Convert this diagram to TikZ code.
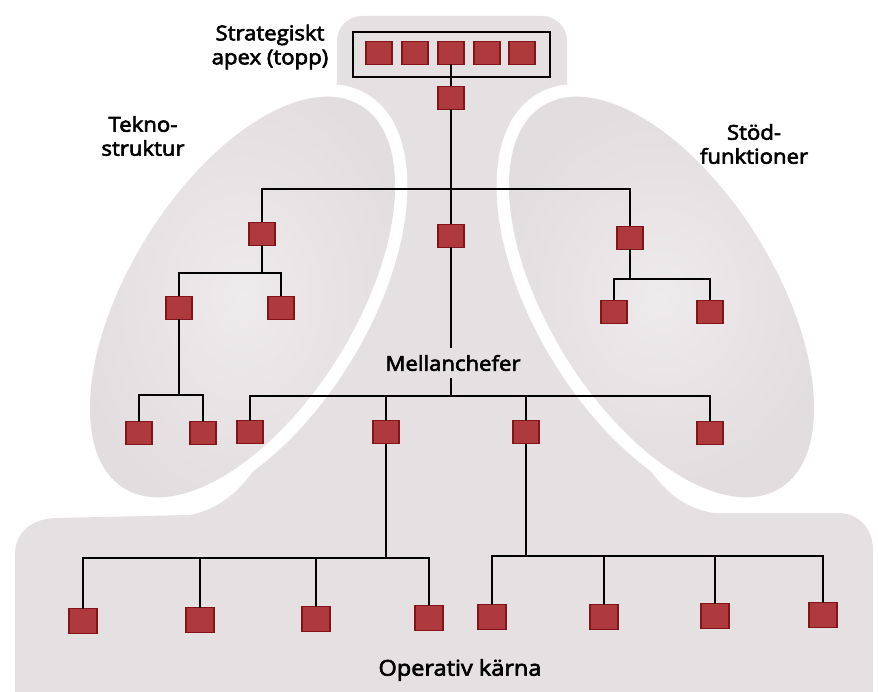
\documentclass[tikz,border=0pt]{standalone}
\usepackage{fontspec}
\newfontfamily\labelfont{Open Sans}[FakeBold=3, FakeStretch=1.08]
\definecolor{blobgray}{RGB}{229,224,225}
\definecolor{ellgray}{RGB}{238,235,236}
\definecolor{ellrim}{RGB}{226,221,222}
\definecolor{boxfill}{RGB}{174,58,61}
\definecolor{boxline}{RGB}{132,20,26}
\begin{document}
\begin{tikzpicture}[x=1pt,y=-1pt,
  box/.style={draw=boxline, fill=boxfill, line width=1.1pt,
    minimum width=26pt, minimum height=23pt, inner sep=0pt, outer sep=0pt},
  opbox/.style={box, minimum width=28pt, minimum height=25pt},
  link/.style={line width=1.5pt, draw=black},
  lbl/.style={font=\labelfont\fontsize{20.5}{24}\selectfont, align=center,
    text=black, inner sep=0pt}]

\useasboundingbox (0,0) rectangle (878,692);
\fill[white] (0,0) rectangle (878,692);

% grey body: apex neck, middle line and operating core
\fill[blobgray]
  (362,16) -- (542,16) .. controls (556,16) and (567,27) .. (567,41)
  -- (567,80) .. controls (567,92) and (575,100) .. (590,108)
  -- (661,297) -- (642,458)
  .. controls (659,485) and (679,508) .. (714,513)
  -- (838,513) .. controls (858,513) and (873,528) .. (873,550)
  -- (873,705) -- (15,705) -- (15,555)
  .. controls (15,532) and (32,518) .. (58,518)
  -- (190,515) .. controls (225,508) and (245,485) .. (262,458)
  -- (242,297) -- (314,108)
  .. controls (329,100) and (337,92) .. (337,80)
  -- (337,41) .. controls (337,27) and (348,16) .. (362,16) -- cycle;

% technostructure and support staff, each with a white rim
\fill[white, rotate around={58.2:(242.5,297)}] (242.5,297) ellipse [x radius=238, y radius=126];
\fill[white, rotate around={-58.2:(661.5,297)}] (661.5,297) ellipse [x radius=238, y radius=126];
\shade[inner color=ellgray, outer color=ellrim, rotate around={58.2:(242.5,297)}]
  (242.5,297) ellipse [x radius=225, y radius=113];
\shade[inner color=ellgray, outer color=ellrim, rotate around={-58.2:(661.5,297)}]
  (661.5,297) ellipse [x radius=225, y radius=113];

% labels
\node[lbl] (apexlbl) at (270,47) {Strategiskt\\apex (topp)};
\node[lbl] (teklbl) at (143,136) {Tekno-\\struktur};
\node[lbl] (stodlbl) at (754,144) {Stöd-\\funktioner};
\node[lbl] (mellbl) at (453,363) {Mellanchefer};
\node[lbl, font=\labelfont\fontsize{21.8}{24}\selectfont] (oplbl) at (460,670) {Operativ kärna};

% strategic apex
\node[draw=black, line width=1.4pt, minimum width=197pt, minimum height=45pt,
  inner sep=0pt] (frame) at (451.5,54.5) {};
\node[box] (a1) at (379,53) {};
\node[box] (a2) at (415,53) {};
\node[box] (a3) at (451,53) {};
\node[box] (a4) at (487,53) {};
\node[box] (a5) at (522,53) {};
\node[box] (n0) at (451,98) {};

% upper level
\node[box] (t1) at (262,234) {};
\node[box] (c1) at (451,236) {};
\node[box] (s1) at (630,238) {};
\node[box] (t2) at (179,308) {};
\node[box] (t3) at (281,308) {};
\node[box] (s2) at (614,312) {};
\node[box] (s3) at (710,312) {};
\node[box] (t4) at (139,433) {};
\node[box] (t5) at (203,433) {};

% middle managers
\node[box] (m1) at (250,432) {};
\node[box] (m2) at (386,432) {};
\node[box] (m3) at (526,432) {};
\node[box] (m4) at (710,433) {};

% operating core
\node[opbox] (o1) at (83,621) {};
\node[opbox] (o2) at (200,620) {};
\node[opbox] (o3) at (316,619) {};
\node[opbox] (o4) at (429,618) {};
\node[opbox] (o5) at (492,617) {};
\node[opbox] (o6) at (604,617) {};
\node[opbox] (o7) at (715,616) {};
\node[opbox] (o8) at (823,615) {};

% junction points
\coordinate (hTop) at (451,189);
\coordinate (hTek) at (262,273);
\coordinate (hTek2) at (179,395);
\coordinate (hStod) at (630,279);
\coordinate (mTop) at (451,348);
\coordinate (mBot) at (451,378);
\coordinate (hMid) at (451,396);
\coordinate (hOpL) at (386,558);
\coordinate (hOpR) at (526,556);

% connectors
\draw[link] (a3) -- (n0);
\draw[link] (n0) -- (c1);
\draw[link] (t1) |- (hTop) -| (s1);
\draw[link] (t1) -- (hTek);
\draw[link] (t2) |- (hTek) -| (t3);
\draw[link] (t2) -- (hTek2);
\draw[link] (t4) |- (hTek2) -| (t5);
\draw[link] (s1) -- (hStod);
\draw[link] (s2) |- (hStod) -| (s3);
\draw[link] (c1) -- (mTop);
\draw[link] (mBot) -- (hMid);
\draw[link] (m1) |- (hMid) -| (m4);
\draw[link] (m2) -- (m2 |- hMid);
\draw[link] (m3) -- (m3 |- hMid);
\draw[link] (m2) -- (hOpL);
\draw[link] (o1) |- (hOpL) -| (o4);
\draw[link] (o2) -- (o2 |- hOpL);
\draw[link] (o3) -- (o3 |- hOpL);
\draw[link] (m3) -- (hOpR);
\draw[link] (o5) |- (hOpR) -| (o8);
\draw[link] (o6) -- (o6 |- hOpR);
\draw[link] (o7) -- (o7 |- hOpR);
\end{tikzpicture}
\end{document}
